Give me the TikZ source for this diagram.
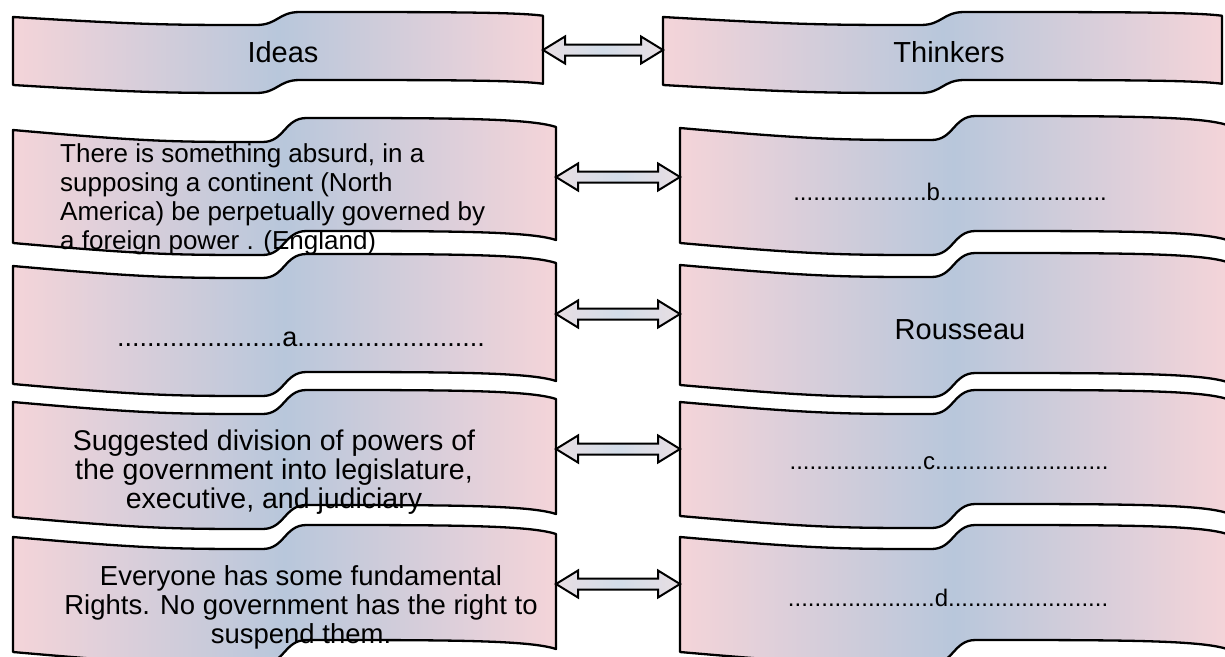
\documentclass[tikz,border=0pt]{standalone}
\usepackage{fontspec}
\setmainfont{Liberation Sans}
\usetikzlibrary{calc,backgrounds}

\definecolor{bandpink}{HTML}{F4D4D9}
\definecolor{bandblue}{HTML}{B8C7DB}
\definecolor{linkpink}{HTML}{E8DEE3}
\definecolor{linkblue}{HTML}{D2DCE8}

\tikzset{
  bandbox/.style={rectangle, draw=none, inner sep=0pt, outer sep=0pt},
  bandline/.style={draw=black, line width=2.3pt, line join=round,
    left color=bandpink, right color=bandpink, middle color=bandblue},
  linkline/.style={draw=black, line width=2pt, line join=miter,
    left color=linkpink, right color=linkpink, middle color=linkblue},
  headtxt/.style={inner sep=0pt, font=\fontsize{29}{34}\selectfont},
  bodytxt/.style={inner sep=0pt, font=\fontsize{#1}{29}\selectfont},
  dottxt/.style={inner sep=0pt, anchor=base, font=\fontsize{#1}{30}\selectfont},
}

% wave-shaped band: name, left x, right x, top y, bottom y, sag, rise
\newcommand\waveband[7]{%
  \pgfmathsetmacro\bndm{(#2+#3)/2}%
  \pgfmathsetmacro\bndw{#3-#2}%
  \pgfmathsetmacro\bnda{#2+0.25*\bndw}%
  \pgfmathsetmacro\bndb{\bndm-0.2*\bndw}%
  \pgfmathsetmacro\bndc{\bndm-22}%
  \pgfmathsetmacro\bndd{\bndm+22}%
  \pgfmathsetmacro\bnde{#3-0.2*\bndw}%
  \pgfmathsetmacro\bndf{#3-0.05*\bndw}%
  \pgfmathsetmacro\bndr{#7/4}%
  \node[bandbox, minimum width={(#3-#2)*1pt}, minimum height={(#5-#4)*1pt}]
    (#1) at (\bndm,{(#4+#5)/2}) {};
  \begin{scope}[on background layer]
    \path[bandline]
      (#2,#4) .. controls (\bnda,{#4+#6}) and (\bndb,{#4+#6}) .. (\bndc,{#4+#6})
      .. controls (\bndm,{#4+#6}) and (\bndm,{#4-#7}) .. (\bndd,{#4-#7})
      .. controls (\bnde,{#4-#7}) and (\bndf,{#4-#7}) .. (#3,{#4-\bndr})
      -- (#3,{#5-\bndr})
      .. controls (\bndf,{#5-#7}) and (\bnde,{#5-#7}) .. (\bndd,{#5-#7})
      .. controls (\bndm,{#5-#7}) and (\bndm,{#5+#6}) .. (\bndc,{#5+#6})
      .. controls (\bndb,{#5+#6}) and (\bnda,{#5+#6}) .. (#2,#5)
      -- cycle;
  \end{scope}
}

% double-headed block arrow between two bands, raised by #3 pt
\newcommand\bandlink[3]{%
  \path[linkline] let \p1=(#1.east), \p2=(#2.west) in
    (\x1,\y1+#3pt) -- (\x1+22pt,\y1+#3pt+13.5pt) -- (\x1+22pt,\y1+#3pt+5.5pt)
    -- (\x2-22pt,\y1+#3pt+5.5pt) -- (\x2-22pt,\y1+#3pt+13.5pt) -- (\x2,\y1+#3pt)
    -- (\x2-22pt,\y1+#3pt-13.5pt) -- (\x2-22pt,\y1+#3pt-5.5pt)
    -- (\x1+22pt,\y1+#3pt-5.5pt) -- (\x1+22pt,\y1+#3pt-13.5pt) -- cycle;
}

\begin{document}
\begin{tikzpicture}[x=1pt,y=-1pt]
\useasboundingbox (0,0) rectangle (1225,656);
\begin{scope}[on background layer]
  \fill[white] (0,0) rectangle (1225,656);
\end{scope}

% bands
\waveband{idea1}{13}{543}{17}{85}{8}{5}
\waveband{thinker1}{663}{1222}{17}{85}{8}{5}
\waveband{idea2}{13}{556}{130}{243}{12}{12}
\waveband{thinker2}{680}{1227}{128}{243}{12}{12}
\waveband{idea3}{13}{556}{266}{384}{12}{12}
\waveband{thinker3}{680}{1227}{265}{385}{12}{12}
\waveband{idea4}{13}{556}{402}{517}{12}{12}
\waveband{thinker4}{680}{1227}{402}{516}{12}{12}
\waveband{idea5}{13}{556}{537}{652}{12}{12}
\waveband{thinker5}{680}{1227}{537}{652}{12}{12}

% links
\bandlink{idea1}{thinker1}{1}
\bandlink{idea2}{thinker2}{9.5}
\bandlink{idea3}{thinker3}{11}
\bandlink{idea4}{thinker4}{10.5}
\bandlink{idea5}{thinker5}{10.5}

% texts
\node[headtxt] (ideastxt) at (283,52) {Ideas};
\node[headtxt] (thinkerstxt) at (949,52) {Thinkers};

\node[bodytxt=26, align=left, anchor=west] (paine) at (60,199)
  {There is something absurd, in a\\
   supposing a continent (North\\
   America) be perpetually governed by\\
   a foreign power . (England)};
\node[dottxt=24] (blankb) at (950,200)
  {....................b.........................};

\node[dottxt=27] (blanka) at (301,346)
  {......................a.........................};
\node[headtxt] (rousseau) at (960,330) {Rousseau};

\node[bodytxt=28.5, align=center] (powers) at (274,472)
  {Suggested division of powers of\\
   the government into legislature,\\
   executive, and judiciary};
\node[dottxt=24] (blankc) at (949,469)
  {....................c..........................};

\node[bodytxt=27.5, align=center] (rights) at (301,607)
  {Everyone has some fundamental\\
   Rights. No government has the right to\\
   suspend them.};
\node[dottxt=24] (blankd) at (948,606)
  {......................d........................};
\end{tikzpicture}
\end{document}
